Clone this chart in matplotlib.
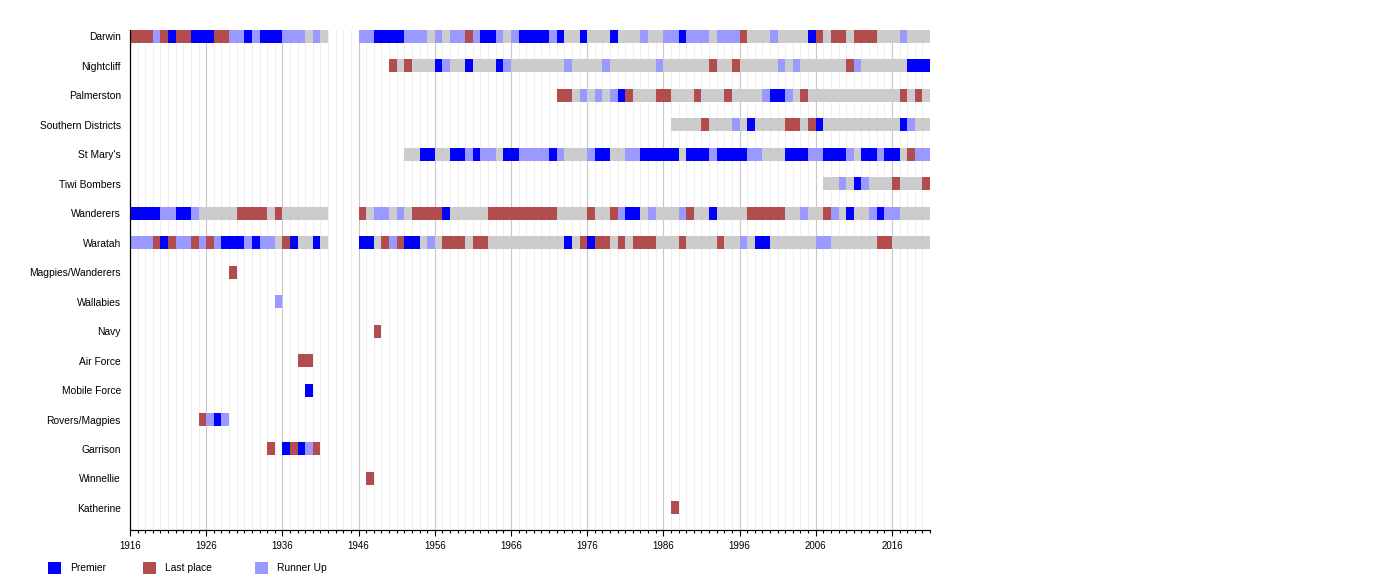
import matplotlib
matplotlib.use("Agg")
import matplotlib.pyplot as plt
from matplotlib.patches import Rectangle
from matplotlib.ticker import MultipleLocator

plt.rcParams["font.family"] = ["Liberation Sans", "DejaVu Sans"]

# season codes, one letter per year: P premier, L last place, R runner up, G other, . no team
teams = ["Darwin", "Nightcliff", "Palmerston", "Southern Districts", "St Mary's",
         "Tiwi Bombers", "Wanderers", "Waratah", "Magpies/Wanderers", "Wallabies",
         "Navy", "Air Force", "Mobile Force", "Rovers/Magpies", "Garrison",
         "Winnellie", "Katherine"]

darwin = [(1916, "LLLRLPLLPPPLLRRPRPPPRRRGRG"),
          (1946, "RRPPPPRRRG" "RGRRLRPPRG" "RPPPPRPGGP" "GGGPGGGRGG"
                 "RRPRRRGRRR" "LGGGRGGGGP" "LGLLGLLLGG" "GRGGG")]
nightcliff = [(1950, "LGLGGG" "PRGGPGGGPR" "GGGGGGGRGG" "GGRGGGGGGR"
                     "GGGGGGLGGL" "GGGGGRGRGG" "GGGGLRGGGG" "GGPPP")]
palmerston = [(1972, "LLGR" "GRGRPLGGGL" "LGGGLGGGLG" "GGGRPPRGLG"
                     "GGGGGGGGGG" "GLGLG")]
southern_districts = [(1987, "GGGGLGGGR" "GPGGGGLLGL" "PGGGGGGGGG" "GPRGG")]
st_marys = [(1952, "GGPP" "GGPPRPRRGP" "PRRRRPRGGG" "RPPGGRRPPP"
                   "PPGPPPRPPP" "PRRGGGPPPR" "RPPPRGPPRP" "PGLRR")]
tiwi_bombers = [(2007, "GGRGPRGGG" "LGGGL")]
wanderers = [(1916, "PPPPRRPPRG" "GGGGLLLLGL" "GGGGGG"),
             (1946, "LGRRGRGLLL" "LPGGGGGLLL" "LLLLLLGGGG" "LGGLRPPGRG"
                    "GGRLGGPGGG" "GLLLLLGGRG" "GLRGPGGRPR" "RGGGG")]
waratah = [(1916, "RRRLPLRRLR" "LRPPPRPRRG" "LPGGPG"),
           (1946, "PPGLRLPPGR" "GLLLGLLGGG" "GGGGGGGPGL" "PLLGLGLLLG"
                  "GGLGGGGLGG" "RGPPGGGGGG" "RRGGGGGGLL" "GGGGG")]
magpies_wanderers = [(1929, "L")]
wallabies = [(1935, "R")]
navy = [(1948, "L")]
air_force = [(1938, "LL")]
mobile_force = [(1939, "P")]
rovers_magpies = [(1925, "LRPR")]
garrison = [(1934, "L.PLPRL")]
winnellie = [(1947, "L")]
katherine = [(1987, "L")]

seasons = [darwin, nightcliff, palmerston, southern_districts, st_marys,
           tiwi_bombers, wanderers, waratah, magpies_wanderers, wallabies,
           navy, air_force, mobile_force, rovers_magpies, garrison,
           winnellie, katherine]

colors = {"P": "#0000ff", "L": "#b34d4d", "R": "#9999ff", "G": "#cccccc"}
legend_items = [("P", "Premier"), ("L", "Last place"), ("R", "Runner Up")]

first_year = 1916
last_year = 2021

fig = plt.figure(figsize=(14, 5.8), dpi=100)
ax = fig.add_axes([130 / 1400, 50 / 580, 800 / 1400, 500 / 580])

# collect cells per colour
cells = {k: ([], []) for k in colors}
for row, runs in enumerate(seasons):
    for start, codes in runs:
        for k, c in enumerate(codes):
            if c in cells:
                cells[c][0].append(row)
                cells[c][1].append(start + k)

for c, (rows, years) in cells.items():
    ax.barh(rows, 1, left=years, height=0.44, color=colors[c],
            linewidth=0, zorder=2)

# grid lines every year, darker every 10 years
for y in range(first_year + 1, last_year):
    if (y - first_year) % 10 == 0:
        ax.axvline(y, color="#c8c8c8", lw=0.8, zorder=0)
    else:
        ax.axvline(y, color="#efefef", lw=0.8, zorder=0)

ax.set_xlim(first_year, last_year)
ax.set_ylim(16.75, -0.22)
ax.set_yticks(range(len(teams)))
ax.set_yticklabels(teams, fontsize=7.4)
ax.tick_params(axis="y", length=0, pad=6.5)

ax.set_xticks(range(first_year, last_year, 10))
ax.xaxis.set_minor_locator(MultipleLocator(1))
ax.tick_params(axis="x", which="major", length=4, width=0.8, labelsize=7, pad=4)
ax.tick_params(axis="x", which="minor", length=2.5, width=0.8)

for s in ["top", "right"]:
    ax.spines[s].set_visible(False)
ax.spines["left"].set_linewidth(0.9)
ax.spines["bottom"].set_linewidth(0.9)

# legend below the chart: square then label
legend_x = [48, 143, 255]
for (k, lab), x0 in zip(legend_items, legend_x):
    fig.add_artist(Rectangle((x0 / 1400, 6 / 580), 13 / 1400, 12 / 580,
                             transform=fig.transFigure, facecolor=colors[k],
                             edgecolor="none"))
    fig.text((x0 + 22) / 1400, 12 / 580, lab, fontsize=7.4, va="center", ha="left")

fig.savefig("out.png", dpi=100)
